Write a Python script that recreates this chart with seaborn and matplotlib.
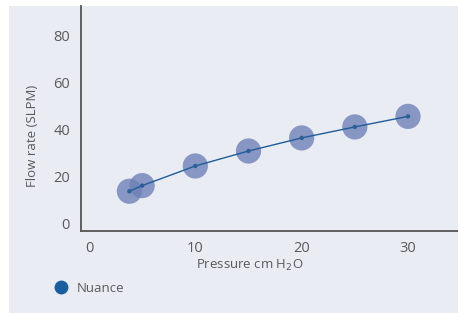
import numpy as np
import pandas as pd
import seaborn as sns
import matplotlib.pyplot as plt
from matplotlib.lines import Line2D
from matplotlib.patches import Rectangle

# Данные: давление (см H2O) и поток (SLPM)
pressure = [3.8, 5, 10, 15, 20, 25, 30]
flow = [13.6, 16.0, 24.4, 30.8, 36.4, 41.1, 45.6]
series_name = "Nuance"
x_ticks = [0, 10, 20, 30]
y_ticks = [0, 20, 40, 60, 80]

data = pd.DataFrame({"pressure": pressure, "flow": flow})

bg = "#EAECF4"
txt = "#5A5A5A"
sns.set_theme(style="white")
plt.rcParams['font.family'] = ['Open Sans', 'DejaVu Sans']

fig = plt.figure(figsize=(4.58, 3.13), dpi=100)
fig.patch.set_facecolor("white")
fig.add_artist(Rectangle((9 / 458, 0), 1, 1 - 6 / 313, transform=fig.transFigure,
                         facecolor=bg, edgecolor="none", zorder=-10))

ax = fig.add_axes([81 / 458, 1 - 231 / 313, (458 - 81) / 458, (231 - 6) / 313])
ax.set_facecolor(bg)

# Линия и крупные маркеры
sns.lineplot(x="pressure", y="flow", data=data, color="#1F5C9A", linewidth=1.0, ax=ax, zorder=3)
sns.scatterplot(x="pressure", y="flow", data=data, s=330, color="#6F81B6", alpha=0.8,
                edgecolor="none", ax=ax, zorder=2)
sns.scatterplot(x="pressure", y="flow", data=data, s=10, color="#2C5F98",
                edgecolor="none", ax=ax, zorder=4)

ax.set_xlim(-0.75, 34.7)
ax.set_ylim(-3.4, 92.8)
ax.set_xticks(x_ticks)
ax.set_yticks(y_ticks)
ax.tick_params(axis="both", length=0, labelsize=10.5, colors=txt, pad=7)
ax.tick_params(axis="y", pad=8)
ax.set_xlabel("")
ax.set_ylabel("")
for side in ["top", "right"]:
    ax.spines[side].set_visible(False)
for side in ["left", "bottom"]:
    ax.spines[side].set_color("#555555")
    ax.spines[side].set_linewidth(1.3)

fig.text(250 / 458, 1 - 265 / 313, "Pressure cm H$_2$O", ha="center", va="center",
         fontsize=9.5, color=txt)
fig.text(33 / 458, 1 - 136 / 313, "Flow rate (SLPM)", ha="center", va="center",
         rotation=90, fontsize=9.5, color=txt)

# Легенда
handle = Line2D([], [], marker="o", linestyle="none", markersize=10,
                markerfacecolor="#1B5EA0", markeredgecolor="none")
fig.legend([handle], [series_name], loc="center left", bbox_to_anchor=(36 / 458, 1 - 288 / 313),
           frameon=False, fontsize=9.5, labelcolor=txt, handletextpad=0.2)

fig.savefig("out.png", dpi=100, facecolor=fig.get_facecolor())
